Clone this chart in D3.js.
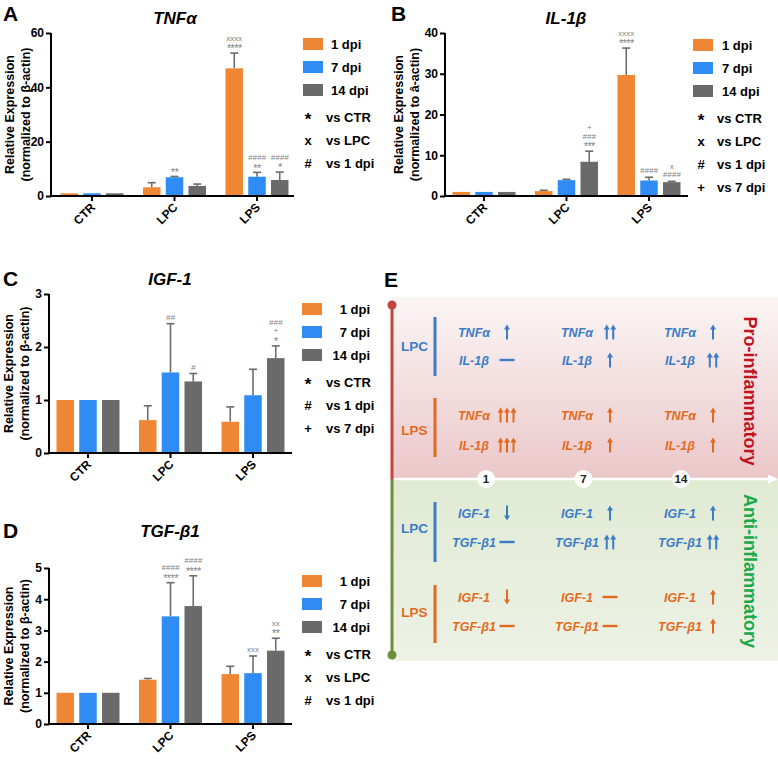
<!DOCTYPE html>
<html><head><meta charset="utf-8">
<script src="https://cdn.jsdelivr.net/npm/d3@7"></script>
<style>body{margin:0;background:#fff} svg{display:block;font-family:"Liberation Sans",Arial,Helvetica,sans-serif}</style>
</head><body><svg id="c" width="778" height="759"></svg>
<script>
// ---------- DATA ----------
const categories = ["CTR", "LPC", "LPS"];
const seriesNames = ["1 dpi", "7 dpi", "14 dpi"];

// A: TNFα
const tnf1 = [1.0, 3.2, 47.0];
const tnf7 = [1.0, 6.9, 7.1];
const tnf14 = [1.0, 3.7, 5.9];
const tnf1Err = [0, 1.7, 5.6];
const tnf7Err = [0, 0.3, 1.6];
const tnf14Err = [0, 0.7, 2.9];
const tnfTicks = [0, 20, 40, 60];
const tnfMarks = [["LPC", "7 dpi", ["**"]], ["LPS", "1 dpi", ["****", "xxxx"]], ["LPS", "7 dpi", ["**", "####"]], ["LPS", "14 dpi", ["*", "####"]]];
const tnfNotes = [["*", "vs CTR"], ["x", "vs LPC"], ["#", "vs 1 dpi"]];

// B: IL-1β
const il1 = [1.0, 1.2, 29.7];
const il7 = [1.0, 3.9, 3.8];
const il14 = [1.0, 8.4, 3.4];
const il1Err = [0, 0.2, 6.6];
const il7Err = [0, 0.2, 0.8];
const il14Err = [0, 2.6, 0.2];
const ilTicks = [0, 10, 20, 30, 40];
const ilMarks = [["LPC", "14 dpi", ["***", "###", "+"]], ["LPS", "1 dpi", ["****", "xxxx"]], ["LPS", "7 dpi", ["####"]], ["LPS", "14 dpi", ["####", "x"]]];
const ilNotes = [["*", "vs CTR"], ["x", "vs LPC"], ["#", "vs 1 dpi"], ["+", "vs 7 dpi"]];

// C: IGF-1
const igf1 = [1.0, 0.62, 0.59];
const igf7 = [1.0, 1.52, 1.09];
const igf14 = [1.0, 1.35, 1.79];
const igf1Err = [0, 0.27, 0.28];
const igf7Err = [0, 0.92, 0.49];
const igf14Err = [0, 0.15, 0.23];
const igfTicks = [0, 1, 2, 3];
const igfMarks = [["LPC", "7 dpi", ["##"]], ["LPC", "14 dpi", ["#"]], ["LPS", "14 dpi", ["*", "+", "###"]]];
const igfNotes = [["*", "vs CTR"], ["#", "vs 1 dpi"], ["+", "vs 7 dpi"]];

// D: TGF-β1
const tgf1 = [1.0, 1.42, 1.6];
const tgf7 = [1.0, 3.45, 1.63];
const tgf14 = [1.0, 3.78, 2.35];
const tgf1Err = [0, 0.04, 0.25];
const tgf7Err = [0, 1.08, 0.55];
const tgf14Err = [0, 0.97, 0.4];
const tgfTicks = [0, 1, 2, 3, 4, 5];
const tgfMarks = [["LPC", "7 dpi", ["****", "####"]], ["LPC", "14 dpi", ["****", "####"]], ["LPS", "7 dpi", ["xxx"]], ["LPS", "14 dpi", ["**", "xx"]]];
const tgfNotes = [["*", "vs CTR"], ["x", "vs LPC"], ["#", "vs 1 dpi"]];

// E: summary
const eDays = ["1", "7", "14"];
const eModels = ["LPC", "LPS"];
const proGenes = ["TNFα", "IL-1β"];
const antiGenes = ["IGF-1", "TGF-β1"];
const proLPC = [["u1", "u2", "u1"], ["eq", "u1", "u2"]];
const proLPS = [["u3", "u1", "u1"], ["u3", "u1", "u1"]];
const antiLPC = [["d1", "u1", "u1"], ["eq", "u2", "u2"]];
const antiLPS = [["d1", "eq", "u1"], ["eq", "eq", "u1"]];

// ---------- STYLE / LAYOUT ----------
const seriesColors = ["#ef8633", "#2f8cf4", "#6a6a6a"];
const annColor = "#838383";
const errColor = "#6d6d6d";
const svg = d3.select("#c");

const panels = [
  {letter: "A", lx: 3, ly: 21, title: "TNFα", tx: 175, ty: 24, x0: 51, top: 33, bottom: 196, max: 60, ticks: tnfTicks,
   means: [tnf1, tnf7, tnf14], errs: [tnf1Err, tnf7Err, tnf14Err], marks: tnfMarks, notes: tnfNotes,
   ylab: "(normalized to β-actin)", labX: 14, first: 92,
   leg: {sqx: 303, y: 44, textX: 331, anchor: "start", sx: 308, nx: 326}},
  {letter: "B", lx: 391, ly: 21, title: "IL-1β", tx: 566, ty: 24, x0: 445, top: 33, bottom: 196, max: 40, ticks: ilTicks,
   means: [il1, il7, il14], errs: [il1Err, il7Err, il14Err], marks: ilMarks, notes: ilNotes,
   ylab: "(normalized to â-actin)", labX: 403, first: 484,
   leg: {sqx: 693, y: 45, textX: 722, anchor: "start", sx: 701, nx: 717}},
  {letter: "C", lx: 3, ly: 286, title: "IGF-1", tx: 170, ty: 285, x0: 49, top: 294, bottom: 453, max: 3, ticks: igfTicks,
   means: [igf1, igf7, igf14], errs: [igf1Err, igf7Err, igf14Err], marks: igfMarks, notes: igfNotes,
   ylab: "(normalized to β-actin)", labX: 13, first: 88,
   leg: {sqx: 302, y: 309, textX: 370, anchor: "end", sx: 308, nx: 326}},
  {letter: "D", lx: 3, ly: 538, title: "TGF-β1", tx: 170, ty: 537, x0: 49, top: 568, bottom: 724, max: 5, ticks: tgfTicks,
   means: [tgf1, tgf7, tgf14], errs: [tgf1Err, tgf7Err, tgf14Err], marks: tgfMarks, notes: tgfNotes,
   ylab: "(normalized to β-actin)", labX: 13, first: 88,
   leg: {sqx: 302, y: 581, textX: 370, anchor: "end", sx: 308, nx: 326}}
];

function drawPanel(p) {
  const g = svg.append("g");
  const step = 82.5;
  const x = d3.scaleBand().domain(categories).range([p.first - step / 2, p.first + 2.5 * step]).padding(0);
  const xs = d3.scaleBand().domain(seriesNames).range([-31.5, 31.5]).paddingInner(0.23);
  const y = d3.scaleLinear().domain([0, p.max]).range([p.bottom, p.top]);

  g.append("text").attr("x", p.lx).attr("y", p.ly).attr("font-size", 21).attr("font-weight", "bold").text(p.letter);
  g.append("text").attr("x", p.tx).attr("y", p.ty).attr("text-anchor", "middle").attr("font-size", 17)
    .attr("font-weight", "bold").attr("font-style", "italic").text(p.title);

  const cy = (p.top + p.bottom) / 2;
  const yl = g.append("text").attr("transform", `translate(${p.labX},${cy}) rotate(-90)`)
    .attr("text-anchor", "middle").attr("font-size", 12.5).attr("font-weight", "bold");
  yl.append("tspan").attr("x", 0).attr("y", 0).text("Relative Expression");
  yl.append("tspan").attr("x", 0).attr("y", 15.5).text(p.ylab);

  seriesNames.forEach((s, si) => {
    categories.forEach((c, ci) => {
      const v = p.means[si][ci], e = p.errs[si][ci];
      const bx = x(c) + x.bandwidth() / 2 + xs(s);
      if (e > 0) {
        const cxm = bx + xs.bandwidth() / 2;
        g.append("line").attr("x1", cxm).attr("x2", cxm).attr("y1", y(v)).attr("y2", y(v + e))
          .attr("stroke", errColor).attr("stroke-width", 1.6);
        g.append("line").attr("x1", cxm - 4).attr("x2", cxm + 4).attr("y1", y(v + e)).attr("y2", y(v + e))
          .attr("stroke", errColor).attr("stroke-width", 1.6);
      }
      g.append("rect").attr("x", bx).attr("y", y(v)).attr("width", xs.bandwidth()).attr("height", y(0) - y(v))
        .attr("fill", seriesColors[si]);
    });
  });

  p.marks.forEach(([c, s, lines]) => {
    const si = seriesNames.indexOf(s), ci = categories.indexOf(c);
    const top = p.means[si][ci] + p.errs[si][ci];
    const cxm = x(c) + x.bandwidth() / 2 + xs(s) + xs.bandwidth() / 2;
    const yc = y(top) - 7;
    lines.forEach((ln, i) => {
      const isStar = ln[0] === "*";
      g.append("text").attr("x", cxm).attr("y", yc - i * 8.5 + (isStar ? 6.2 : 3.0))
        .attr("text-anchor", "middle").attr("fill", annColor)
        .attr("font-size", isStar ? 11 : 8).attr("font-style", ln[0] === "#" ? "italic" : "normal")
        .attr("letter-spacing", isStar ? -0.6 : 0)
        .text(ln);
    });
  });

  const ya = d3.axisLeft(y).tickValues(p.ticks).tickSize(5).tickSizeOuter(0).tickFormat(d3.format("d"));
  const yg = g.append("g").attr("transform", `translate(${p.x0},0)`).call(ya);
  yg.select(".domain").attr("d", `M0,${p.top}V${p.bottom}`);
  const xa = d3.axisBottom(x).tickSize(5).tickSizeOuter(0);
  const xg = g.append("g").attr("transform", `translate(0,${p.bottom})`).call(xa);
  xg.select(".domain").attr("d", `M${p.x0},0H${p.x0 + 243}`);
  [yg, xg].forEach(a => {
    a.selectAll("path,line").attr("stroke", "#000").attr("stroke-width", 2);
    a.selectAll("text").attr("font-size", 12).attr("font-weight", "bold").attr("fill", "#000")
      .attr("font-family", '"Liberation Sans",Arial,sans-serif');
  });
  yg.selectAll("text").attr("x", -7);
  xg.selectAll(".tick text").attr("text-anchor", "end").attr("dy", null).attr("y", 0)
    .attr("transform", "translate(4,12) rotate(-45)");

  const L = p.leg;
  seriesNames.forEach((s, i) => {
    const yy = L.y + i * 23;
    g.append("rect").attr("x", L.sqx).attr("y", yy - 6).attr("width", 20).attr("height", 12).attr("fill", seriesColors[i]);
    g.append("text").attr("x", L.textX).attr("y", yy + 4.5).attr("text-anchor", L.anchor)
      .attr("font-size", 13).attr("font-weight", "bold").text(s);
  });
  p.notes.forEach(([sym, lab], i) => {
    const yy = L.y + 73 + i * 23;
    g.append("text").attr("x", L.sx).attr("y", yy + (sym === "*" ? 8 : 4.5)).attr("text-anchor", "middle")
      .attr("font-size", sym === "*" ? 17 : 13).attr("font-weight", "bold").text(sym);
    g.append("text").attr("x", L.nx).attr("y", yy + 4.5).attr("font-size", 13).attr("font-weight", "bold").text(lab);
  });
}
panels.forEach(drawPanel);

// ---------- PANEL E ----------
(function () {
  const g = svg.append("g");
  const blue = "#3b7bc8", orange = "#e36a1c";
  const defs = svg.append("defs");
  const pg = defs.append("linearGradient").attr("id", "pinkG").attr("x1", 0).attr("y1", 0).attr("x2", 0).attr("y2", 1);
  pg.append("stop").attr("offset", "0%").attr("stop-color", "#fbf5f5");
  pg.append("stop").attr("offset", "100%").attr("stop-color", "#ebc7c9");
  const gg = defs.append("linearGradient").attr("id", "greenG").attr("x1", 0).attr("y1", 0).attr("x2", 0).attr("y2", 1);
  gg.append("stop").attr("offset", "0%").attr("stop-color", "#e0ead3");
  gg.append("stop").attr("offset", "100%").attr("stop-color", "#edf2e5");

  const axisY = 479, leftX = 392;
  g.append("rect").attr("x", leftX).attr("y", 297).attr("width", 778 - leftX).attr("height", axisY - 297).attr("fill", "url(#pinkG)");
  g.append("rect").attr("x", leftX).attr("y", axisY).attr("width", 778 - leftX).attr("height", 661 - axisY).attr("fill", "url(#greenG)");

  g.append("text").attr("x", 384).attr("y", 287).attr("font-size", 21).attr("font-weight", "bold").text("E");

  g.append("line").attr("x1", leftX).attr("x2", leftX).attr("y1", 305).attr("y2", axisY).attr("stroke", "#c2463f").attr("stroke-width", 3);
  g.append("line").attr("x1", leftX).attr("x2", leftX).attr("y1", axisY).attr("y2", 655).attr("stroke", "#6b8f3b").attr("stroke-width", 3);
  g.append("circle").attr("cx", leftX).attr("cy", 305).attr("r", 4.5).attr("fill", "#c2463f");
  g.append("circle").attr("cx", leftX).attr("cy", 655).attr("r", 4.5).attr("fill", "#6b8f3b");

  const dayX = d3.scalePoint().domain(eDays).range([486, 681]);
  g.append("line").attr("x1", leftX + 2).attr("x2", 770).attr("y1", axisY).attr("y2", axisY).attr("stroke", "#fff").attr("stroke-width", 2.5);
  g.append("path").attr("d", `M778,${axisY}L768,${axisY - 4.5}L768,${axisY + 4.5}Z`).attr("fill", "#fff");
  eDays.forEach(d => {
    g.append("circle").attr("cx", dayX(d)).attr("cy", axisY).attr("r", 9).attr("fill", "#fff");
    g.append("text").attr("x", dayX(d)).attr("y", axisY + 4.2).attr("text-anchor", "middle")
      .attr("font-size", 11.5).attr("font-weight", "bold").attr("fill", "#222").text(d);
  });

  g.append("text").attr("transform", "translate(750,391) rotate(90)").attr("dy", "0.35em").attr("text-anchor", "middle")
    .attr("font-size", 18).attr("font-weight", "bold").attr("fill", "#c0131f").text("Pro-inflammatory");
  g.append("text").attr("transform", "translate(750,571) rotate(90)").attr("dy", "0.35em").attr("text-anchor", "middle")
    .attr("font-size", 18).attr("font-weight", "bold").attr("fill", "#1aa84a").text("Anti-inflammatory");

  const colX = d3.scalePoint().domain(eDays).range([474, 680]);

  function symbol(code, cx, cy, color) {
    if (code === "eq") {
      g.append("line").attr("x1", cx - 7.5).attr("x2", cx + 7.5).attr("y1", cy).attr("y2", cy)
        .attr("stroke", color).attr("stroke-width", 2.4);
      return;
    }
    const n = +code[1];
    const dir = code[0] === "u" ? -1 : 1;
    for (let i = 0; i < n; i++) {
      const ax = cx + (i - (n - 1) / 2) * 6.5;
      const tip = cy + dir * 7.5, tail = cy - dir * 7.5;
      g.append("line").attr("x1", ax).attr("x2", ax).attr("y1", tail).attr("y2", tip - dir * 4)
        .attr("stroke", color).attr("stroke-width", 2);
      g.append("path").attr("d", `M${ax - 3},${tip - dir * 5}L${ax},${tip}L${ax + 3},${tip - dir * 5}Z`).attr("fill", color);
    }
  }

  const blocks = [
    {model: eModels[0], genes: proGenes, vals: proLPC, rows: [332, 360], bar: [317, 376], color: blue},
    {model: eModels[1], genes: proGenes, vals: proLPS, rows: [415, 445], bar: [398, 457], color: orange},
    {model: eModels[0], genes: antiGenes, vals: antiLPC, rows: [513, 542], bar: [502, 562], color: blue},
    {model: eModels[1], genes: antiGenes, vals: antiLPS, rows: [597, 626], bar: [585, 643], color: orange}
  ];
  blocks.forEach(b => {
    const mid = (b.rows[0] + b.rows[1]) / 2;
    g.append("text").attr("x", 414.5).attr("y", mid + 5).attr("text-anchor", "middle")
      .attr("font-size", 13.5).attr("font-weight", "bold").attr("fill", b.color).text(b.model);
    g.append("line").attr("x1", 435).attr("x2", 435).attr("y1", b.bar[0]).attr("y2", b.bar[1])
      .attr("stroke", b.color).attr("stroke-width", 3);
    b.genes.forEach((gene, gi) => {
      eDays.forEach((d, di) => {
        g.append("text").attr("x", colX(d)).attr("y", b.rows[gi] + 4.5).attr("text-anchor", "middle")
          .attr("font-size", 12.5).attr("font-weight", "bold").attr("font-style", "italic")
          .attr("fill", b.color).text(gene);
        symbol(b.vals[gi][di], colX(d) + 33, b.rows[gi], b.color);
      });
    });
  });
})();
</script></body></html>
